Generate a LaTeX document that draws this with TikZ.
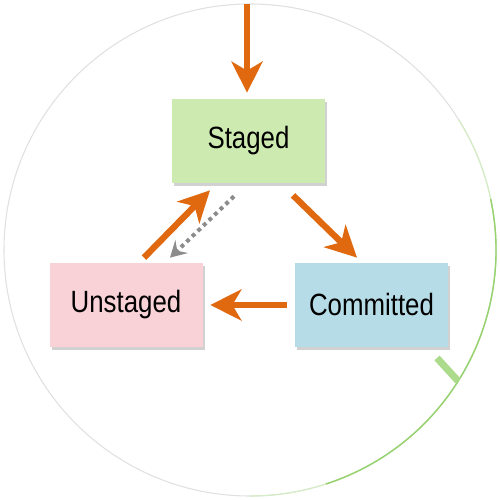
\documentclass[tikz,border=0pt]{standalone}
\usepackage{fontspec}
\setmainfont[FakeStretch=0.84]{Liberation Sans}
\usetikzlibrary{arrows.meta,shadows}
\definecolor{flow}{RGB}{224,104,14}
\definecolor{stagedfill}{RGB}{205,235,176}
\definecolor{unstagedfill}{RGB}{248,210,214}
\definecolor{commitfill}{RGB}{182,221,231}
\definecolor{ringgreen}{RGB}{150,210,110}

\begin{document}
\begin{tikzpicture}[
		state/.style={minimum width=3.06cm, minimum height=1.68cm, inner sep=0pt,
			font=\fontsize{17.5}{20}\selectfont, text=black,
			drop shadow={shadow xshift=1.2pt, shadow yshift=-1.5pt, fill=black!40, opacity=0.45}},
		move/.style={draw=flow, line width=3.6pt, -{Stealth[length=0.62cm, width=0.62cm, inset=0.18cm]}},
		undo/.style={draw=black!45, line width=2.3pt, dash pattern=on 2.2pt off 2.2pt, -{Stealth[length=0.32cm, width=0.36cm, inset=0.12cm]}}
	]
	\useasboundingbox (0,0) rectangle (10,10);
	\draw[black!12, line width=0.6pt] (5,5) circle (4.92);
	\draw[ringgreen!40, line width=0.7pt] (5,5) ++(32:4.92) arc (32:-90:4.92);
	\draw[ringgreen, line width=0.8pt] (5,5) ++(12:4.92) arc (12:-72:4.92);
	\draw[ringgreen!80, line width=4pt] (8.74,2.84) -- (9.16,2.38);

	\node[state, fill=stagedfill] (s) at (4.97,7.18) {Staged};
	\node[state, fill=unstagedfill] (u) at (2.52,3.90) {Unstaged};
	\node[state, fill=commitfill] (c) at (7.43,3.90) {Committed};
	\coordinate (src) at (4.94,9.92);

	\path
	(src) edge[move] ([shift={(-0.03,0.12)}]s.north)
	([shift={(0.89,-0.24)}]s.south) edge[move] ([shift={(-0.29,0.10)}]c.north)
	([shift={(-0.16,0)}]c.west) edge[move] ([shift={(0.15,0)}]u.east)
	([shift={(0.36,0.10)}]u.north) edge[move] ([shift={(-0.77,-0.14)}]s.south)
	([shift={(-0.29,-0.26)}]s.south) edge[undo] ([shift={(0.88,0.10)}]u.north);
\end{tikzpicture}
\end{document}
